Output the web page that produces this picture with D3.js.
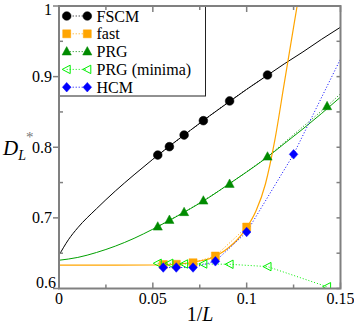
<!doctype html>
<html>
  <head>
    <meta charset="utf-8">
    <script src="https://cdn.jsdelivr.net/npm/d3@7/dist/d3.min.js"></script>
    <style>
      body { margin: 0; background: #fff; }
      svg { font-family: "Liberation Serif", "DejaVu Serif", serif; }
    </style>
  </head>
  <body>
    <svg id="chart" width="354" height="324"></svg>
    <script>
      // system sizes L, plotted against 1/L
      const oddL = [19, 17, 15, 13, 11, 9, 7, 5];
      const evenL = [18, 16, 14, 12, 10, 8, 6];

      const fscmVals = [0.789, 0.8008, 0.8173, 0.8376, 0.8655, 0.9023];
      const fastVals = [0.634, 0.6343, 0.6365, 0.646, 0.687];
      const prgVals = [0.6875, 0.697, 0.708, 0.7243, 0.748, 0.7866, 0.858, 1.0];
      const prgMinVals = [0.6357, 0.6357, 0.6347, 0.6347, 0.6343, 0.631, 0.6025];
      const hcmVals = [0.6297, 0.6297, 0.6297, 0.6385, 0.680, 0.790, 1.015];

      // fitted curves
      const fscmFitX = [0, 0.005, 0.01, 0.02, 0.03, 0.04, 0.05, 0.06, 0.07, 0.08, 0.09, 0.10, 0.11, 0.12, 0.13, 0.14, 0.15];
      const fscmFitY = [0.647, 0.669, 0.686, 0.713, 0.738, 0.761, 0.783, 0.804, 0.824, 0.844, 0.863, 0.882, 0.900, 0.918, 0.935, 0.953, 0.970];
      const prgFitX = [0, 0.01, 0.02, 0.03, 0.04, 0.05, 0.06, 0.07, 0.08, 0.09, 0.10, 0.11, 0.12, 0.13, 0.14, 0.15];
      const prgFitY = [0.640, 0.644, 0.651, 0.660, 0.671, 0.684, 0.698, 0.713, 0.729, 0.747, 0.765, 0.784, 0.805, 0.826, 0.848, 0.871];
      const fastFitX = [0, 0.03, 0.05, 0.06, 0.065, 0.07, 0.075, 0.08, 0.085, 0.09, 0.095, 0.10, 0.105, 0.11, 0.115, 0.12, 0.125, 0.13];
      const fastFitY = [0.633, 0.633, 0.6333, 0.634, 0.635, 0.6365, 0.639, 0.642, 0.648, 0.657, 0.669, 0.686, 0.71, 0.748, 0.81, 0.89, 0.97, 1.05];

      const xTicks = [0, 0.05, 0.1, 0.15];
      const xTickLabels = ["0", "0.05", "0.1", "0.15"];
      const yTicks = [0.6, 0.7, 0.8, 0.9, 1.0];
      const yTickLabels = ["0.6", "0.7", "0.8", "0.9", "1"];

      const seriesNames = ["FSCM", "fast", "PRG", "PRG (minima)", "HCM"];

      const svg = d3.select("#chart");
      const x = d3.scaleLinear().domain([0, 0.15]).range([59, 340.5]);
      const y = d3.scaleLinear().domain([0.6, 1]).range([288.5, 6]);

      svg.append("defs").append("clipPath").attr("id", "plotclip")
        .append("rect")
        .attr("x", x(0)).attr("y", y(1))
        .attr("width", x(0.15) - x(0)).attr("height", y(0.6) - y(1));

      const pts = (Ls, vals) => vals.map((v, i) => ({x: 1 / Ls[i], y: v}));
      const fitPts = (xs, ys) => xs.map((v, i) => ({x: v, y: ys[i]}));

      const series = [
        {name: "FSCM", data: pts(oddL, fscmVals), color: "#000000", shape: "circle", fill: true},
        {name: "fast", data: pts(evenL, fastVals), color: "#ffa500", shape: "square", fill: true},
        {name: "PRG", data: pts(oddL, prgVals), color: "#008b00", shape: "triUp", fill: true},
        {name: "PRG (minima)", data: pts(oddL, prgMinVals), color: "#00ee00", shape: "triLeft", fill: false},
        {name: "HCM", data: pts(evenL, hcmVals), color: "#0000ff", shape: "diamond", fill: true}
      ];

      const fits = [
        {data: fitPts(fscmFitX, fscmFitY), color: "#000000", width: 1},
        {data: fitPts(prgFitX, prgFitY), color: "#00a000", width: 1},
        {data: fitPts(fastFitX, fastFitY), color: "#ffa500", width: 1.2}
      ];

      const plot = svg.append("g").attr("clip-path", "url(#plotclip)");

      const smooth = d3.line().x(d => x(d.x)).y(d => y(d.y)).curve(d3.curveMonotoneX);
      const straight = d3.line().x(d => x(d.x)).y(d => y(d.y));

      plot.selectAll("path.fit")
        .data(fits)
        .enter()
        .append("path")
        .attr("class", "fit")
        .attr("d", d => smooth(d.data))
        .style("fill", "none")
        .style("stroke", d => d.color)
        .style("stroke-width", d => d.width);

      plot.selectAll("path.link")
        .data(series)
        .enter()
        .append("path")
        .attr("class", "link")
        .attr("d", d => straight(d.data))
        .style("fill", "none")
        .style("stroke", d => d.color)
        .style("stroke-width", 1)
        .style("stroke-dasharray", "1,2");

      function markerPath(shape) {
        switch (shape) {
          case "circle": return d3.symbol(d3.symbolCircle, 60)();
          case "square": return "M-4,-4H4V4H-4Z";
          case "triUp": return "M0,-5L4.6,3.4H-4.6Z";
          case "triLeft": return "M-4.5,0L3.5,-4.2V4.2Z";
          case "diamond": return "M0,-4.8L4.3,0L0,4.8L-4.3,0Z";
        }
      }

      function drawMarker(g, s, px, py) {
        g.append("path")
          .attr("d", markerPath(s.shape))
          .attr("transform", "translate(" + px + "," + py + ")")
          .style("fill", s.fill ? s.color : "none")
          .style("stroke", s.color)
          .style("stroke-width", s.fill ? 0.5 : 1);
      }

      series.forEach(s => {
        s.data.forEach(d => {
          if (d.x <= 0.15 && d.y <= 1) drawMarker(plot, s, x(d.x), y(d.y));
        });
      });

      // legend
      const legend = svg.append("g");
      legend.append("rect")
        .attr("x", 59).attr("y", 6)
        .attr("width", 146.5).attr("height", 90)
        .style("fill", "#fff")
        .style("stroke", "#222")
        .style("stroke-width", 1);

      series.forEach((s, i) => {
        const ly = 16 + i * 17.8;
        legend.append("line")
          .attr("x1", 66.7).attr("x2", 87.3).attr("y1", ly).attr("y2", ly)
          .style("stroke", s.color).style("stroke-width", 1)
          .style("stroke-dasharray", "1,2");
        drawMarker(legend, s, 66.7, ly);
        drawMarker(legend, s, 87.3, ly);
        legend.append("text")
          .attr("x", 96.5).attr("y", ly + 5.5)
          .style("font-size", "16px")
          .text(seriesNames[i]);
      });

      // frame and ticks
      const axisColor = "#808080";
      const frame = svg.append("g").style("stroke", axisColor).style("stroke-width", 2);
      frame.append("rect")
        .attr("x", x(0)).attr("y", y(1))
        .attr("width", x(0.15) - x(0)).attr("height", y(0.6) - y(1))
        .style("fill", "none");

      const xMinor = d3.range(0, 0.1501, 0.025);
      const yMinor = d3.range(0.6, 1.0001, 0.05);

      xMinor.forEach((v, i) => {
        const len = i % 2 === 0 ? 6 : 4;
        frame.append("line").attr("x1", x(v)).attr("x2", x(v))
          .attr("y1", y(0.6)).attr("y2", y(0.6) - len).style("stroke-width", 1.5);
        frame.append("line").attr("x1", x(v)).attr("x2", x(v))
          .attr("y1", y(1)).attr("y2", y(1) + len).style("stroke-width", 1.5);
      });
      yMinor.forEach((v, i) => {
        const major = i % 2 === 0;
        if (major) {
          frame.append("line").attr("x1", x(0) - 6).attr("x2", x(0))
            .attr("y1", y(v)).attr("y2", y(v)).style("stroke-width", 1.5);
        } else {
          frame.append("line").attr("x1", x(0)).attr("x2", x(0) + 4)
            .attr("y1", y(v)).attr("y2", y(v)).style("stroke-width", 1.5);
        }
        frame.append("line").attr("x1", x(0.15)).attr("x2", x(0.15) - 4)
          .attr("y1", y(v)).attr("y2", y(v)).style("stroke-width", 1.5);
      });

      svg.selectAll("text.xtick")
        .data(xTicks)
        .enter()
        .append("text")
        .attr("class", "xtick")
        .attr("x", d => x(d))
        .attr("y", 304)
        .attr("text-anchor", "middle")
        .style("font-size", "16px")
        .text((d, i) => xTickLabels[i]);

      svg.selectAll("text.ytick")
        .data(yTicks)
        .enter()
        .append("text")
        .attr("class", "ytick")
        .attr("x", d => d === 0.6 ? 56 : 52)
        .attr("y", d => d === 0.6 ? y(d) - 1 : (d === 1 ? 14.5 : y(d) + 5.5))
        .attr("text-anchor", "end")
        .style("font-size", "16px")
        .text((d, i) => yTickLabels[i]);

      // axis titles
      const xt = svg.append("text")
        .attr("x", 200).attr("y", 321)
        .attr("text-anchor", "middle")
        .style("font-size", "20px");
      xt.append("tspan").text("1/");
      xt.append("tspan").style("font-style", "italic").text("L");

      const yt = svg.append("text").attr("x", 3).attr("y", 155).style("font-size", "21px");
      yt.append("tspan").style("font-style", "italic").text("D");
      yt.append("tspan").attr("dy", 5).style("font-size", "14px").style("font-style", "italic").text("L");
      svg.append("text").attr("x", 26).attr("y", 142)
        .style("font-size", "15px").style("fill", "#777").text("*");
    </script>
  </body>
</html>
